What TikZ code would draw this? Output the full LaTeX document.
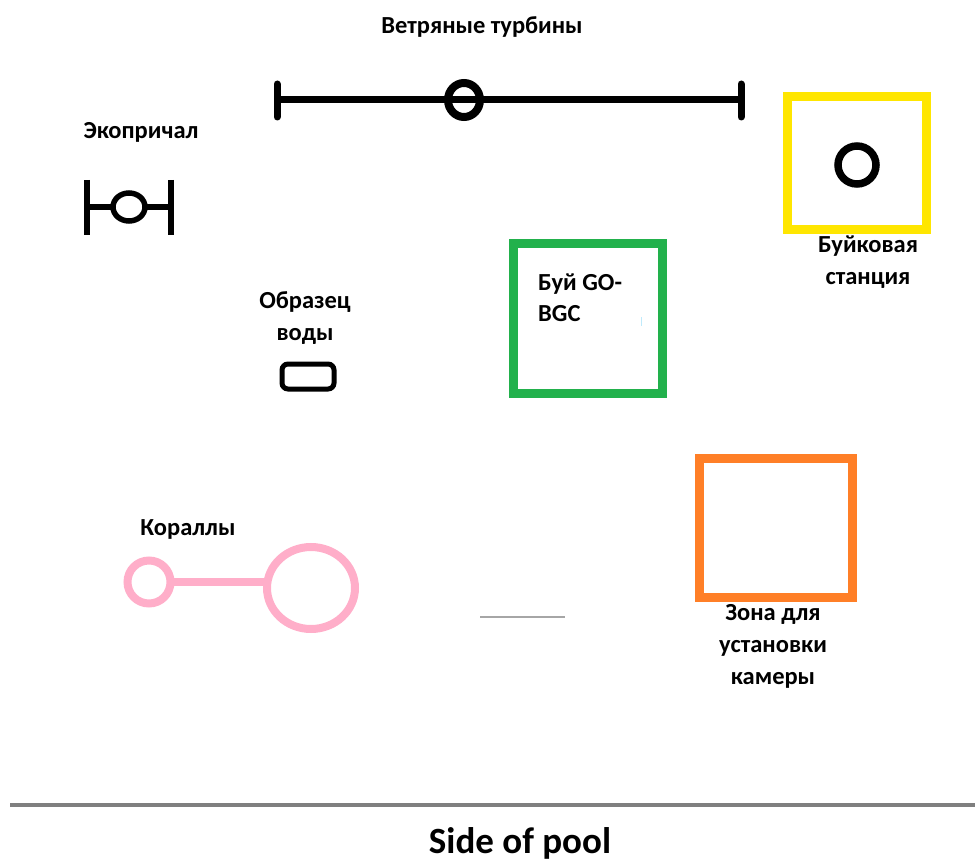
\documentclass[tikz,border=0pt]{standalone}
\usepackage{fontspec}
\setmainfont{Carlito}
\definecolor{buoyyellow}{HTML}{FFE600}
\definecolor{gogreen}{HTML}{22B14C}
\definecolor{camorange}{HTML}{FF7F27}
\definecolor{coralpink}{HTML}{FFAEC9}
\definecolor{poolgrey}{HTML}{7F7F7F}
\tikzset{
  lbl/.style={font=\bfseries\fontsize{24.5}{32}\selectfont, align=center, inner sep=0pt},
  lbll/.style={font=\bfseries\fontsize{24.5}{31}\selectfont, align=left, inner sep=0pt},
  symline/.style={line width=7pt, black},
  pierline/.style={line width=5.5pt, black},
  coralline/.style={line width=8pt, coralpink},
  zonebox/.style={line width=9pt},
}
\begin{document}
\begin{tikzpicture}[x=1pt,y=-1pt]
\useasboundingbox (0,0) rectangle (975,861);

% wind turbines
\node[lbl] (tlabel) at (482,27) {Ветряные турбины};
\coordinate (tl) at (277,100);
\coordinate (tr) at (741,100);
\draw[symline, line cap=round] (277,84) -- (277,117);
\draw[symline, line cap=round] (741,84) -- (741,117);
\draw[symline] (tl) -- (tr);
\draw[symline, line width=8pt] (464,100) ellipse (16 and 17);

% eco pier
\node[lbl] (elabel) at (141,132) {Экопричал};
\draw[pierline] (87,180) -- (87,235);
\draw[pierline] (171,180) -- (171,235);
\draw[pierline] (87,207) -- (112,207);
\draw[pierline] (146,207) -- (171,207);
\draw[pierline] (129,207) ellipse (16 and 14);

% buoy station
\draw[zonebox, buoyyellow] (787,97) rectangle (926,230);
\draw[line width=7.5pt] (857,165) circle (19);
\node[lbl] (blabel) at (868,262) {Буйковая\\станция};

% water sample
\node[lbl] (wlabel) at (305,318) {Образец\\воды};
\draw[line width=5pt, rounded corners=6pt] (282,364) rectangle (334,389);

% GO-BGC buoy
\draw[zonebox, gogreen] (513,244) rectangle (662,393);
\node[lbll, anchor=west] (glabel) at (538,298) {Буй GO-\\BGC};
\draw[cyan!25, line width=1pt] (641,317) -- (641,326);

% camera zone
\draw[zonebox, camorange] (699,458) rectangle (852,597);
\node[lbl] (clabel) at (773,646) {Зона для\\установки\\камеры};

% corals
\node[lbl] (klabel) at (188,529) {Кораллы};
\draw[coralline] (149,582) circle (21.5);
\draw[coralline] (311,588) ellipse (44 and 41);
\draw[coralline] (170,582) -- (267,582);

% short grey mark
\draw[gray!70, line width=1.5pt] (480,617) -- (565,617);

% pool side
\draw[poolgrey, line width=4pt] (10,805) -- (975,805);
\node[font=\bfseries\fontsize{37}{40}\selectfont, inner sep=0pt] (side) at (520,843) {Side of pool};
\end{tikzpicture}
\end{document}
